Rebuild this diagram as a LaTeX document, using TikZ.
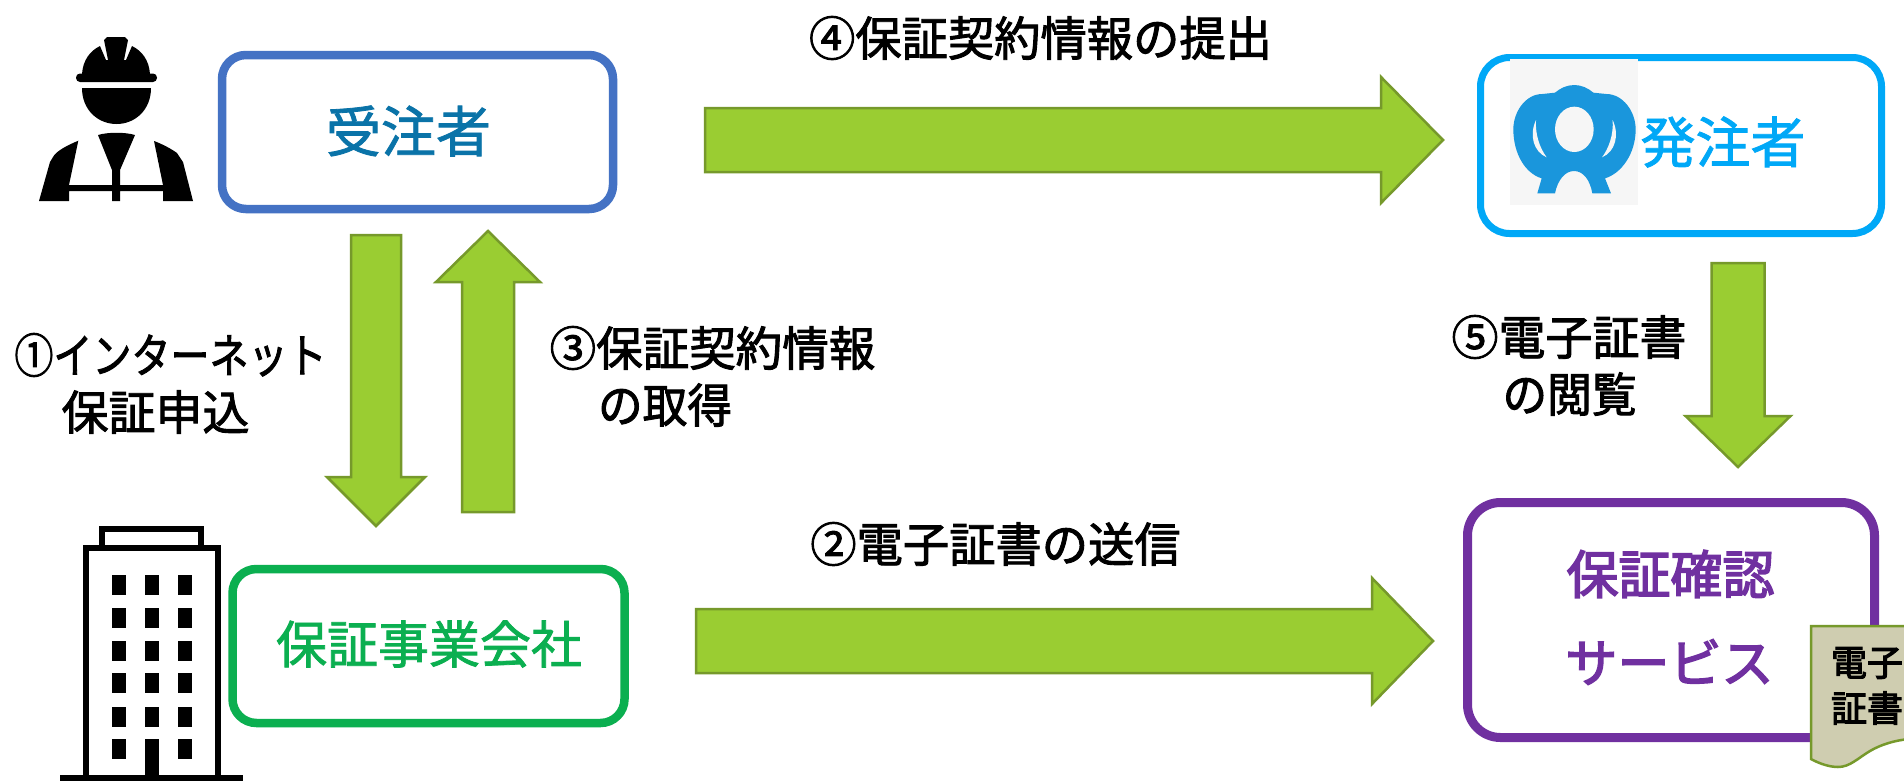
\documentclass[tikz,border=0pt]{standalone}
\usepackage{fontspec}
\usetikzlibrary{calc}
\setmainfont{Noto Sans CJK JP}
\newfontfamily\jpsemi[FakeBold=2]{Noto Sans CJK JP}
\newfontfamily\jpmid[FakeBold=1.5]{Noto Sans CJK JP}
\newfontfamily\jpheavy[FakeBold=3]{Noto Sans CJK JP}
\definecolor{cblue}{HTML}{4472C4}
\definecolor{ctxtblue}{HTML}{0A73A8}
\definecolor{cgreen}{HTML}{0BAF50}
\definecolor{ccyan}{HTML}{00A8F7}
\definecolor{cpurple}{HTML}{7030A0}
\definecolor{carrow}{HTML}{9ACD32}
\definecolor{carrowline}{HTML}{76992B}
\definecolor{cdoc}{HTML}{CFCDB0}
\definecolor{clogo}{HTML}{1A96DC}
\definecolor{clogobg}{HTML}{F6F6F6}
\newcommand{\lab}[3]{\fontsize{#1}{#1}\selectfont\scalebox{#2}[1]{#3}}
\newcommand{\blockarrow}[5]{%
  \coordinate (hb) at ($(#2)!#5pt!(#1)$);
  \draw[blockarrowstyle]
    ($(#1)!#3pt!90:(#2)$) -- ($(hb)!#3pt!90:(#2)$) -- ($(hb)!#4pt!90:(#2)$) -- (#2)
    -- ($(hb)!#4pt!-90:(#2)$) -- ($(hb)!#3pt!-90:(#2)$) -- ($(#1)!#3pt!-90:(#2)$) -- cycle;
}
\tikzset{
  boxstyle/.style={draw,rounded corners=#1,fill=white,inner sep=0pt},
  txt/.style={inner sep=0pt,outer sep=0pt,text=black,font=\jpsemi},
  midtxt/.style={inner sep=0pt,outer sep=0pt,font=\jpmid},
  heavytxt/.style={inner sep=0pt,outer sep=0pt,font=\jpheavy},
  blockarrowstyle/.style={draw=carrowline,fill=carrow,line width=2.5pt,line join=miter},
}
\begin{document}
\begin{tikzpicture}[x=1pt,y=-1pt]
\useasboundingbox (0,0) rectangle (1904,780);
\fill[white] (0,0) rectangle (1904,780);

% worker icon
\begin{scope}[black]
  \fill[rounded corners=4pt] (76,73.5) rectangle (157,82);
  \fill (82,74) .. controls (83,60) and (90,51) .. (100,46) -- (106,60) -- (126,60) -- (132,46) .. controls (142,51) and (149,60) .. (150,74) -- cycle;
  \fill (104,40) -- (107,37) -- (125,37) -- (128,40) -- (124,60) -- (108,60) -- cycle;
  \fill (82,88) -- (151,88) .. controls (151,110) and (135,124) .. (116.5,124) .. controls (98,124) and (82,110) .. (82,88) -- cycle;
  \fill (78.3,140.7) .. controls (68,145) and (56,151) .. (53,157) -- (50,162) -- (39,201) -- (69,201) -- (69,191) -- (112,191) -- (112,201) -- (120,201) -- (120,191) -- (163,191) -- (163,201) -- (193,201) -- (183,162) -- (177,153) .. controls (170,148) and (162,144) .. (154,141) -- (163,185) -- (120,185) -- (120,170) -- (135,135) .. controls (125,132) and (108,132) .. (98,135) -- (112,170) -- (112,185) -- (69,185) -- cycle;
\end{scope}

% building icon
\begin{scope}[black]
  \draw[line width=6pt] (86,777) -- (86,548) -- (218,548) -- (218,777);
  \draw[line width=5.5pt] (102,545) -- (102,529) -- (201,529) -- (201,545);
  \fill (60,775) rectangle (243,781);
  \foreach \wx in {112,145,178}
    \foreach \wy in {575,608,641,673,707,739}
      \fill (\wx,\wy) rectangle ++(13.5,19.5);
  \fill (145,739) rectangle (158.5,781);
\end{scope}

% boxes
\node[boxstyle=24pt,draw=cblue,line width=8.5pt,minimum width=391pt,minimum height=154pt] (contractor) at (417.5,132) {};
\node[boxstyle=24pt,draw=cgreen,line width=8.5pt,minimum width=392pt,minimum height=154pt] (guarantor) at (428.5,646) {};
\node[boxstyle=29pt,draw=ccyan,line width=7pt,minimum width=401pt,minimum height=176pt] (client) at (1681,145.5) {};
\node[boxstyle=33pt,draw=cpurple,line width=9pt,minimum width=407pt,minimum height=235pt] (service) at (1671,620) {};

% box texts
\node[midtxt,text=ctxtblue] (contractorT) at (408.5,131) {\lab{55}{1}{受注者}};
\node[midtxt,text=cgreen] (guarantorT) at (429,644) {\lab{51}{1}{保証事業会社}};
\node[midtxt,text=ccyan] (clientT) at (1723,142) {\lab{55}{1}{発注者}};
\node[heavytxt,text=cpurple] (serviceA) at (1670.5,574) {\lab{52}{1}{保証確認}};
\node[heavytxt,text=cpurple] (serviceB) at (1669.5,662) {\lab{52}{1}{サービス}};

% logo
\fill[clogobg] (1510,59) rectangle (1638,205);
\begin{scope}[shift={(1505,70)},scale=0.33333]
  \fill[clogo] (97,370) -- (110,325) .. controls (60,310) and (25,250) .. (25,178)
    .. controls (25,125) and (62,72) .. (112,72) -- (150,68)
    .. controls (165,55) and (185,45) .. (208,45)
    .. controls (230,45) and (250,55) .. (265,68) -- (304,72)
    .. controls (354,72) and (392,125) .. (392,178)
    .. controls (392,250) and (350,310) .. (300,325) -- (318,370) -- (262,370)
    .. controls (255,330) and (235,303) .. (207,303)
    .. controls (180,303) and (158,330) .. (150,370) -- cycle;
  \fill[clogobg] (208,178) ellipse [x radius=58,y radius=68];
  \fill[clogobg] (93,150) .. controls (72,195) and (85,245) .. (125,262) .. controls (105,235) and (90,195) .. (93,150) -- cycle;
  \fill[clogobg] (323,150) .. controls (344,195) and (331,245) .. (291,262) .. controls (311,235) and (326,195) .. (323,150) -- cycle;
\end{scope}

% arrows
\coordinate (a1s) at (376,235);  \coordinate (a1e) at (376,526);
\coordinate (a3s) at (488,512);  \coordinate (a3e) at (488,231);
\coordinate (a4s) at (705,140);  \coordinate (a4e) at (1443,140);
\coordinate (a2s) at (696,641);  \coordinate (a2e) at (1433,641);
\coordinate (a5s) at (1738,263); \coordinate (a5e) at (1738,467);
\blockarrow{a1s}{a1e}{25}{49}{49}
\blockarrow{a3s}{a3e}{26}{52}{51}
\blockarrow{a4s}{a4e}{32}{63}{62}
\blockarrow{a2s}{a2e}{32}{63}{61}
\blockarrow{a5s}{a5e}{26.5}{52.5}{51}

% certificate
\draw[draw=carrowline,fill=cdoc,line width=2.5pt] (1811,759) -- (1811,626) -- (1915,626) -- (1915,739) -- (1910,739)
  .. controls (1895,740) and (1880,745) .. (1870,751)
  .. controls (1858,758) and (1850,767) .. (1838,767)
  .. controls (1830,767) and (1820,764) .. (1811,759) -- cycle;
\node[heavytxt] (docA) at (1867,663) {\lab{36}{1}{電子}};
\node[heavytxt] (docB) at (1867,708) {\lab{36}{1}{証書}};

% step labels
\node[txt] (s4) at (1040.5,38) {\lab{47}{0.985}{④保証契約情報の提出}};
\node[txt] (s2) at (995.5,544) {\lab{47}{0.985}{②電子証書の送信}};
\node[txt] (s1a) at (170.5,355) {\lab{47}{0.83}{①インターネット}};
\node[txt] (s1b) at (155.5,412) {\lab{47}{1}{保証申込}};
\node[txt] (s3a) at (712.5,348) {\lab{47}{0.99}{③保証契約情報}};
\node[txt] (s3b) at (665,405) {\lab{47}{0.95}{の取得}};
\node[txt] (s5a) at (1569,337) {\lab{47}{1}{⑤電子証書}};
\node[txt] (s5b) at (1569.5,394) {\lab{47}{0.95}{の閲覧}};
\end{tikzpicture}
\end{document}
